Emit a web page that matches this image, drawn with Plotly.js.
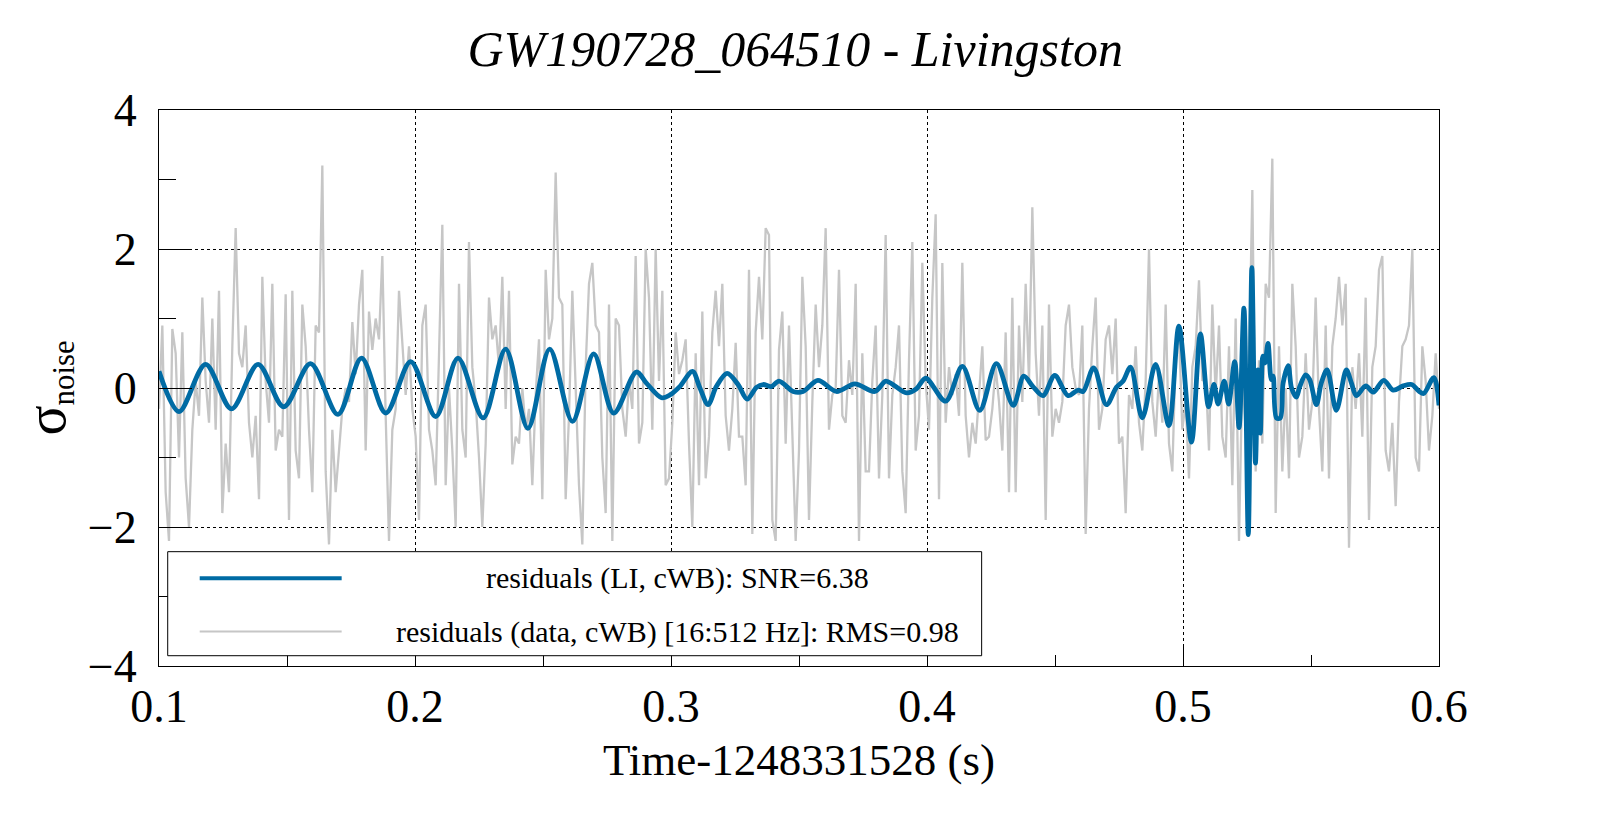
<!DOCTYPE html>
<html>
<head>
<meta charset="utf-8">
<script src="https://cdn.plot.ly/plotly-3.0.1.min.js"></script>
<style>
  html, body { margin: 0; padding: 0; background: #ffffff; }
  #chart { width: 1599px; height: 813px; }
</style>
</head>
<body>
<div id="chart"></div>
<script>
// ---------------- data ----------------
const chartTitle = "GW190728_064510 - Livingston";
const xTitle = "Time-1248331528 (s)";
const legendLI = "residuals (LI, cWB): SNR=6.38";
const legendData = "residuals (data, cWB) [16:512 Hz]: RMS=0.98";

const xTickVals = [0.1, 0.2, 0.3, 0.4, 0.5, 0.6];
const xTickText = ["0.1", "0.2", "0.3", "0.4", "0.5", "0.6"];
const yTickVals = [-4, -2, 0, 2, 4];

// whitened data residuals (grey), sampled from t0 at a fixed rate
const grayT0 = 0.1;
const grayRate = 768; // samples per second
const grayValues = [
  -0.3, 0.9, -1.5, -2.2, 0.85, 0.5, -1.0, 0.8, -1.3, -2.0,
  -0.6, 0.1, -0.4, 1.3, 0.1, -0.5, 1.0, -0.6, 1.4, -1.8,
  -0.8, -1.5, 0.6, 2.3, 0.5, 0.3, 0.9, -0.5, -1.0, -0.4,
  -1.6, 1.6, 0.1, -0.5, 1.5, -0.9, -0.6, -0.7, 1.35, -1.9,
  1.4, -0.9, -1.3, 1.2, 0.6, -0.6, -1.5, 0.9, 0.8,
  3.2, -1.2, -2.25, -0.6, -1.5, -0.9, -0.3, 0.0, -0.2, 0.95,
  0.2, 1.2, 1.7, -0.9, 1.1, 0.55, 1.0, 0.7, 1.9, -0.4,
  -2.2, -0.6, -0.3, 1.4, 0.6, -0.1, 0.6, -0.3, -0.7, -1.9,
  0.9, 1.2, -0.6, -0.9, -1.4, 0.6, 2.35, -1.4, 0.0, -0.9,
  -2.0, 1.5, -0.6, -1.0, 2.1, 0.3, -0.2, -1.0,
  -2.0, -0.8, 1.3, 0.7, 0.9, 0.3, 1.6, -0.3, 1.4, -1.1,
  -0.7, -0.8, 0.0, -0.6, -0.3, -1.4, -0.1, 0.7, -1.6, 1.7,
  0.7, 1.0, 3.1, 1.3, 1.2, -1.6, -0.4, 1.4, 0.1, -1.4,
  -2.25, 0.3, 1.5, 1.8, 0.9, 0.8, -1.0, -1.8, 1.2, -2.2,
  1.0, 0.9, -0.3, -0.7, 0.1, -0.3, 1.9, -0.8,
  -0.5, 2.0, 1.3, -0.6, 2.0, 0.1, 1.4, -1.4, -1.3, -0.5,
  0.8, 0.2, 0.4, 0.7, -0.8, -2.0, 0.5, -1.4, 1.1, -1.3,
  -0.7, 0.8, 1.4, 0.6, 1.5, -0.4, -0.9, -0.3, 0.65, -0.7,
  -0.7, -1.4, 1.7, -2.1, 0.8, 1.6, 0.7, 2.3, 2.2, -1.9,
  -2.2, 0.55, 1.1, -0.8, 0.9, -0.8, -2.2, -0.9,
  1.6, 0.6, -1.9, -0.2, 1.2, 0.3, 0.9, 2.3, -0.6, -0.1,
  0.0, 1.7, -0.4, -0.5, 0.4, -0.1, 1.5, -2.2, 0.5, -1.2,
  -1.2, 0.1, 0.9, -1.3, -0.1, 2.2, -1.3, -0.1, 0.3, 0.9,
  -1.2, -1.8, 0.4, 2.1, -0.9, -0.4, 1.8, 0.1, -0.6, 1.3,
  2.5, -1.6, 1.8, -0.5, 0.3, -0.1, 0.2, -0.4,
  1.8, -0.4, -1.0, -0.5, -0.8, -0.1, 0.6, -0.75, -0.7, -0.3,
  0.3, -0.2, -0.9, 0.8, -1.5, 1.3, -1.5, 0.9, -0.2, 1.5,
  0.1, 2.6, 0.5, -0.4, 0.9, -1.9, 1.2, -0.7, -0.3, -0.5,
  -0.2, 0.9, 1.2, 0.3, 0.0, -0.1, 0.9, -2.1, -0.3, 0.6,
  1.3, -0.6, -0.3, 0.7, 0.9, 0.2, 1.0, -0.8,
  -0.7, -1.8, -0.1, -0.3, 0.6, -0.5, -0.9, 0.1, 2.0, -0.2,
  -0.7, 0.2, -0.5, 1.2, -0.8, -1.2, 0.5, 0.8, -0.6, -0.2,
  -1.3, 0.3, 0.6, 1.55, 0.1, 0.2, -0.9, 1.2, -0.1, 0.9,
  -0.7, -1.0, 0.6, -1.4, 1.0, -2.2, 0.2, -0.6, 0.3, 2.85,
  -1.2, 0.4,
  -0.8, 1.5, 1.3, 3.3, -1.8, 0.6, -1.2, 0.0, -1.3, 1.5,
  0.6, -1.0, -0.7, 0.5, -0.6, -0.2, 1.3, -0.3, -1.2, 0.9,
  -1.3, 0.6, 1.0, 1.6, 0.9, 1.5, -2.3, 0.3, -0.3, 0.5,
  -0.7, 1.3, -1.9, 0.3, 0.6, 1.7, 1.9, -0.9, -1.2, -0.5,
  -1.7, -0.2, 0.6, 0.7, 0.9, 2.0, -1.0, -1.2,
  0.6, 0.1, -0.9, -0.4, 0.5, -0.3
];

// reconstructed LI residuals (blue): times (s) and values (sigma_noise)
const blueTimes = [
  0.1000, 0.1078, 0.1182, 0.1283, 0.1387, 0.1487, 0.1592, 0.1699, 0.1791, 0.1886,
  0.1983, 0.2081, 0.2168, 0.2266, 0.2354, 0.2441, 0.2526, 0.2615, 0.2698, 0.2776,
  0.2865, 0.2904, 0.2963, 0.2996, 0.3034, 0.3084, 0.3113, 0.3145, 0.3177, 0.3219,
  0.3262, 0.3297, 0.3334, 0.3360, 0.3392, 0.3422, 0.3477, 0.3516, 0.3574, 0.3646,
  0.3718, 0.3796, 0.3839, 0.3867, 0.3920, 0.3959, 0.3995, 0.4073, 0.4138, 0.4206,
  0.4271, 0.4337, 0.4378, 0.4414, 0.4453, 0.4499, 0.4551, 0.4590, 0.4610, 0.4651,
  0.4701, 0.4740, 0.4766, 0.4795, 0.4841, 0.4893, 0.4945, 0.4984, 0.5033, 0.5068,
  0.5100, 0.5121, 0.5137, 0.5161, 0.5178, 0.5202, 0.5219, 0.5238, 0.5255, 0.5269,
  0.5283, 0.5293, 0.5302, 0.5312, 0.5320, 0.5332, 0.5345, 0.5352, 0.5365, 0.5380,
  0.5391, 0.5411, 0.5424, 0.5443, 0.5456, 0.5479, 0.5495, 0.5521, 0.5540, 0.5563,
  0.5599, 0.5638, 0.5658, 0.5677, 0.5714, 0.5743, 0.5784, 0.5821, 0.5860, 0.5893,
  0.5923, 0.5940, 0.5980, 0.6000
];
const blueValues = [
  0.24, -0.34, 0.34, -0.30, 0.34, -0.27, 0.35, -0.38, 0.43, -0.36,
  0.38, -0.41, 0.43, -0.43, 0.56, -0.58, 0.56, -0.48, 0.49, -0.36,
  0.23, 0.07, -0.14, -0.10, 0.02, 0.24, 0.00, -0.24, 0.02, 0.21,
  0.05, -0.16, 0.01, 0.05, 0.02, 0.10, -0.05, -0.05, 0.11, -0.05,
  0.06, -0.05, 0.10, 0.05, -0.07, -0.01, 0.14, -0.19, 0.31, -0.32,
  0.35, -0.25, 0.17, 0.02, -0.11, 0.18, -0.11, -0.03, -0.05, 0.29,
  -0.24, 0.01, 0.10, 0.30, -0.43, 0.34, -0.54, 0.89, -0.78, 0.78,
  -0.27, 0.05, -0.23, 0.10, -0.23, 0.38, -0.57, 1.15, -2.11, 1.73,
  -1.08, 0.26, -0.65, 0.46, 0.36, 0.64, 0.12, 0.17, -0.43, -0.43,
  0.07, 0.32, 0.00, -0.13, 0.02, 0.19, 0.12, -0.24, 0.07, 0.26,
  -0.32, 0.26, 0.07, -0.11, 0.03, -0.06, 0.11, -0.03, 0.03, 0.05,
  -0.05, -0.08, 0.15, -0.25
];

// ---------------- build ----------------
const grayTimes = grayValues.map((_, i) => grayT0 + i / grayRate);

const FONT = "Liberation Serif, Times New Roman, serif";
const BLUE = "#006ba4";
const GREY = "#c6c6c6";

const traces = [
  {
    x: grayTimes, y: grayValues, type: "scatter", mode: "lines",
    name: legendData, line: { color: GREY, width: 2.3 }, showlegend: false,
    hoverinfo: "skip"
  },
  {
    x: blueTimes, y: blueValues, type: "scatter", mode: "lines",
    name: legendLI, line: { color: BLUE, width: 4.8, shape: "spline", smoothing: 0.9 },
    showlegend: false, hoverinfo: "skip"
  }
];

// legend box geometry (paper coordinates of the plot area)
const legBox = { x0: 0.0068, x1: 0.6427, y0: 0.0185, y1: 0.2056 };
const legRows = [
  { y: 0.158, color: BLUE, width: 4, text: legendLI },
  { y: 0.062, color: GREY, width: 2, text: legendData }
];
const shapes = [
  { type: "rect", xref: "paper", yref: "paper", x0: legBox.x0, x1: legBox.x1,
    y0: legBox.y0, y1: legBox.y1, fillcolor: "#ffffff",
    line: { color: "#000000", width: 1 }, layer: "above" }
];
const annotations = [];
legRows.forEach(r => {
  shapes.push({ type: "line", xref: "paper", yref: "paper", x0: 0.0318, x1: 0.1427,
    y0: r.y, y1: r.y, line: { color: r.color, width: r.width }, layer: "above" });
  annotations.push({ xref: "paper", yref: "paper", x: 0.405, y: r.y, xanchor: "center",
    yanchor: "middle", showarrow: false, text: r.text,
    font: { family: FONT, size: 30, color: "#000000" } });
});

const axisCommon = {
  showline: true, mirror: true, linecolor: "#000000", linewidth: 1,
  showgrid: true, gridcolor: "#000000", gridwidth: 1, griddash: "dot",
  zeroline: false, ticks: "inside", tickcolor: "#000000", tickwidth: 1,
  tickfont: { family: FONT, size: 46, color: "#000000" }
};

const layout = {
  width: 1599, height: 813,
  margin: { l: 159, r: 160, t: 110, b: 147, pad: 0 },
  paper_bgcolor: "#ffffff", plot_bgcolor: "#ffffff",
  showlegend: false,
  title: {
    text: chartTitle, x: 0.497, xref: "paper", y: 0.94, yref: "container",
    xanchor: "center", yanchor: "middle",
    font: { family: FONT, size: 50, style: "italic", color: "#000000" }
  },
  xaxis: Object.assign({}, axisCommon, {
    range: [0.1, 0.6], tickmode: "array", tickvals: xTickVals, ticktext: xTickText,
    ticklen: 22, ticklabelstandoff: 0,
    minor: { dtick: 0.05, tick0: 0.1, ticks: "inside", ticklen: 11, tickcolor: "#000000", showgrid: false },
    title: { text: xTitle, standoff: 12, font: { family: FONT, size: 45, color: "#000000" } }
  }),
  yaxis: Object.assign({}, axisCommon, {
    range: [-4, 4], tickmode: "array", tickvals: yTickVals,
    ticklen: 33, ticklabelstandoff: 12,
    minor: { dtick: 1, tick0: 0, ticks: "inside", ticklen: 17, tickcolor: "#000000", showgrid: false },
    title: { text: "<span style='font-size:56px'>σ</span><sub>noise</sub>", standoff: 8,
      font: { family: FONT, size: 44, color: "#000000" } }
  }),
  shapes: shapes,
  annotations: annotations
};

Plotly.newPlot("chart", traces, layout, { displayModeBar: false, staticPlot: true });
</script>
</body>
</html>
